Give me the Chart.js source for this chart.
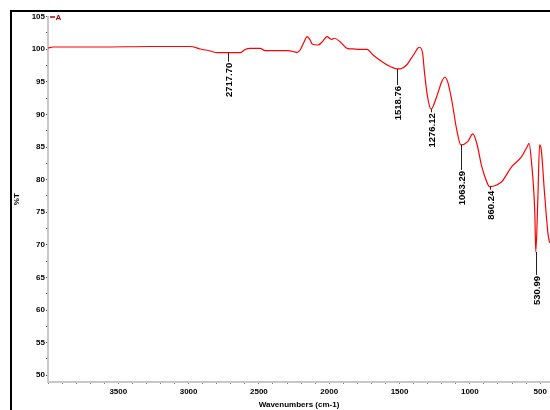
<!DOCTYPE html>
<html>
<head>
<meta charset="utf-8">
<script src="https://cdn.jsdelivr.net/npm/chart.js@4.4.1/dist/chart.umd.min.js"></script>
<style>
  html, body { margin: 0; padding: 0; background: #fff; overflow: hidden; }
  #wrap { position: relative; width: 550px; height: 410px; overflow: hidden; }
  #frame { position: absolute; left: 10px; top: 10px; width: 600px; height: 500px; border: 2px solid #000; }
  #mycanvas { position: absolute; left: 0; top: 0; }
</style>
</head>
<body>
<div id="wrap">
  <div id="frame"></div>
  <canvas id="mycanvas" width="550" height="410"></canvas>
</div>
<script>
// spectrum (wavenumber, %T)
var wavenumbers = [4000, 3962, 3628, 3273, 2988, 2917, 2846, 2796, 2717.70, 2633, 2598, 2562, 2491, 2456, 2292, 2228, 2207, 2179, 2157, 2136, 2122, 2079, 2051, 2015, 1994, 1980, 1965, 1923, 1873, 1830, 1780, 1731, 1688, 1624, 1567, 1518.76, 1486, 1450, 1422, 1393, 1372, 1358, 1336, 1322, 1301, 1276.12, 1236, 1200, 1179, 1158, 1129, 1093, 1063.29, 1015, 979, 951, 915, 880, 860.24, 809, 773, 702, 632, 590, 579, 561, 538, 530.99, 516, 504, 492, 469, 445, 433];
var transmittance = [100.2, 100.35, 100.35, 100.43, 100.43, 100.05, 99.74, 99.48, 99.48, 99.48, 99.97, 100.15, 100.15, 99.79, 99.79, 99.54, 99.89, 101.12, 101.93, 101.43, 100.81, 100.66, 101.12, 101.93, 101.63, 101.53, 101.69, 101.17, 100.15, 100.05, 100.0, 100.0, 99.13, 98.1, 97.36, 96.98, 97.06, 97.59, 98.44, 99.39, 100.12, 100.31, 99.39, 96.32, 92.73, 90.80, 92.73, 95.03, 95.71, 95.03, 92.22, 87.62, 85.32, 85.83, 87.01, 85.58, 81.99, 79.69, 78.92, 79.19, 79.69, 81.99, 83.53, 85.17, 85.58, 82.56, 74.89, 68.91, 77.39, 85.32, 84.56, 77.96, 71.83, 70.29];

var peakWavenumbers = [2717.70, 1518.76, 1276.12, 1063.29, 860.24, 530.99];
var peakLabels = ['2717.70', '1518.76', '1276.12', '1063.29', '860.24', '530.99'];

var xTickLabels = [3500, 3000, 2500, 2000, 1500, 1000, 500];
var yTickLabels = [50, 55, 60, 65, 70, 75, 80, 85, 90, 95, 100, 105];
var seriesName = 'A';

var points = [];
for (var i in wavenumbers) {
  points.push({x: wavenumbers[i], y: transmittance[i]});
}

var tickFont = {family: 'Liberation Sans, Arial, sans-serif', size: 8, weight: 'bold'};

var peakPlugin = {
  id: 'peaks',
  afterDatasetsDraw: function(chart, args, opts) {
    var ctx = chart.ctx;
    var xs = chart.scales.x, ys = chart.scales.y;
    ctx.save();
    for (var i = 0; i < peakWavenumbers.length; i++) {
      var idx = wavenumbers.indexOf(peakWavenumbers[i]);
      var px = Math.round(xs.getPixelForValue(peakWavenumbers[i])) + 0.5;
      var py = ys.getPixelForValue(transmittance[idx]);
      var end = py + opts.leads[i];
      ctx.strokeStyle = '#222';
      ctx.lineWidth = 1;
      ctx.beginPath();
      ctx.moveTo(px, py);
      ctx.lineTo(px, end);
      ctx.stroke();
      ctx.save();
      ctx.translate(px + 1, end + 1);
      ctx.rotate(-Math.PI / 2);
      ctx.fillStyle = '#000';
      ctx.font = 'bold 9.5px "Liberation Sans", Arial, sans-serif';
      ctx.textAlign = 'right';
      ctx.textBaseline = 'middle';
      ctx.fillText(peakLabels[i], 0, 0);
      ctx.restore();
    }
    // series key in the top left corner
    var a = chart.chartArea;
    ctx.strokeStyle = '#b00000';
    ctx.lineWidth = 1.5;
    ctx.beginPath();
    ctx.moveTo(a.left + 2, 17);
    ctx.lineTo(a.left + 7, 17);
    ctx.stroke();
    ctx.fillStyle = '#b00000';
    ctx.font = 'bold 8px "Liberation Sans", Arial, sans-serif';
    ctx.textAlign = 'left';
    ctx.textBaseline = 'middle';
    ctx.fillText(seriesName, a.left + 7.5, 18);
    ctx.restore();
  }
};

var ctx = document.getElementById('mycanvas');
var chart = new Chart(ctx, {
  type: 'line',
  data: {
    datasets: [{
      label: seriesName,
      data: points,
      borderColor: '#ff0000',
      borderWidth: 1.2,
      pointRadius: 0,
      fill: false,
      cubicInterpolationMode: 'monotone'
    }]
  },
  options: {
    responsive: false,
    animation: false,
    layout: {autoPadding: false, padding: {left: 12, right: 0, top: 16.7, bottom: 0}},
    plugins: {
      legend: {display: false},
      tooltip: {enabled: false},
      peaks: {leads: [9, 16, 3, 25, 3, 23]}
    },
    scales: {
      x: {
        type: 'linear',
        reverse: true,
        min: 430,
        max: 4000,
        afterFit: function(scale) { scale.height = 28.3; },
        afterBuildTicks: function(scale) {
          var t = [];
          for (var v = 500; v <= 4000; v += 100) t.push({value: v});
          scale.ticks = t;
        },
        ticks: {
          autoSkip: false,
          maxRotation: 0,
          padding: 3,
          color: '#000',
          font: tickFont,
          callback: function(v) { return xTickLabels.indexOf(v) >= 0 ? String(v) : ''; }
        },
        grid: {drawOnChartArea: false, tickLength: 2, tickColor: '#444', tickWidth: 1},
        border: {color: '#c8c8c8', width: 2},
        title: {display: true, text: 'Wavenumbers (cm-1)', color: '#000', font: tickFont, padding: {top: 0, bottom: 0}}
      },
      y: {
        min: 49,
        max: 105,
        afterFit: function(scale) { scale.width = 36; },
        afterBuildTicks: function(scale) {
          var t = [];
          for (var v = 50; v <= 105; v += 2.5) t.push({value: v});
          scale.ticks = t;
        },
        ticks: {
          autoSkip: false,
          padding: 1,
          color: '#000',
          font: tickFont,
          callback: function(v) { return yTickLabels.indexOf(v) >= 0 ? String(v) : ''; }
        },
        grid: {drawOnChartArea: false, tickLength: 2, tickColor: '#444', tickWidth: 1},
        border: {color: '#c8c8c8', width: 2},
        title: {display: true, text: '%T', color: '#000', font: tickFont, padding: {top: 0, bottom: 0}}
      }
    }
  },
  plugins: [peakPlugin]
});
</script>
</body>
</html>
